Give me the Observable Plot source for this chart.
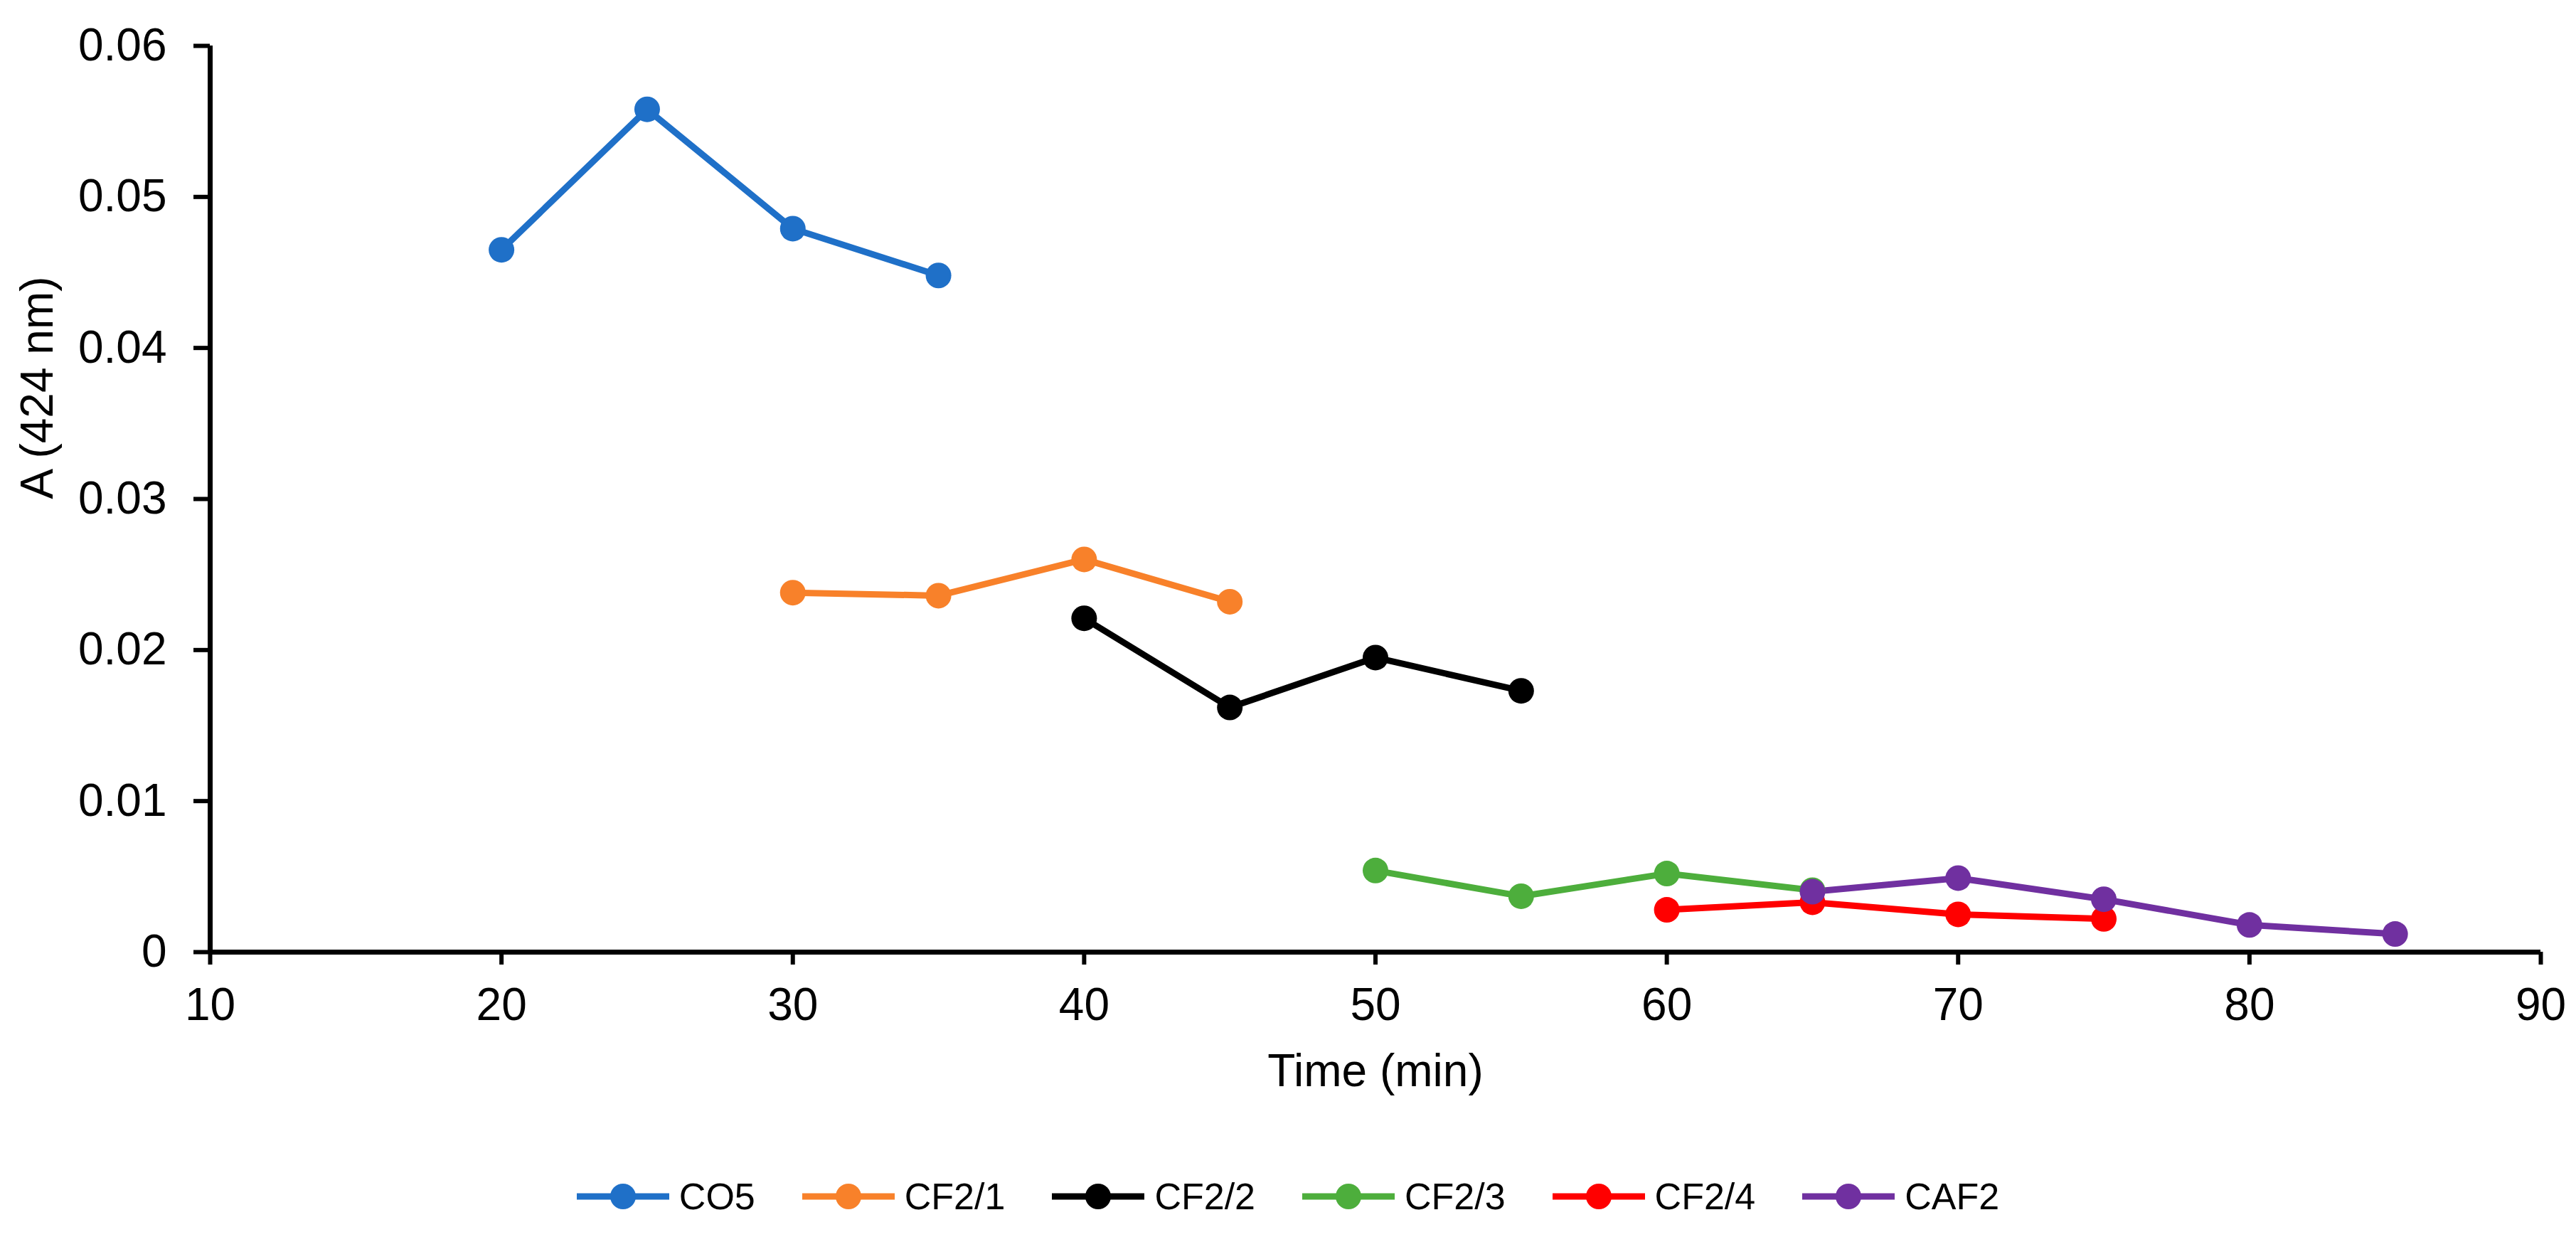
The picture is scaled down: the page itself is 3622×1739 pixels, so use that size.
<!DOCTYPE html>
<html>
<head>
<meta charset="utf-8">
<script src="https://cdn.jsdelivr.net/npm/d3@7"></script>
<script src="https://cdn.jsdelivr.net/npm/@observablehq/plot@0.6"></script>
<style>
  html, body { margin: 0; padding: 0; background: #fff; overflow: hidden; }
  #chart svg { display: block; }
  #legend { width: 3622px; height: 119px; display: flex; justify-content: center; align-items: flex-start; padding-top: 40px; box-sizing: border-box; }
  .item { display: flex; align-items: center; height: 44px; margin: 0 33px; }
  .item svg { display: block; margin-right: 14px; }
  .item span { font-family: "Liberation Sans Narrow", "Arial Narrow", "Liberation Sans", sans-serif; font-size: 52px; color: #000; line-height: 44px; }
</style>
</head>
<body>
<div id="chart"></div>
<div id="legend"></div>
<script>
const seriesNames = ["CO5", "CF2/1", "CF2/2", "CF2/3", "CF2/4", "CAF2"];
const seriesColors = ["#1F70C8", "#F8812A", "#000000", "#4DAE3C", "#FF0000", "#7030A0"];

const co5Time = [20, 25, 30, 35];
const co5A = [0.0465, 0.0558, 0.0479, 0.0448];
const cf21Time = [30, 35, 40, 45];
const cf21A = [0.0238, 0.0236, 0.0260, 0.0232];
const cf22Time = [40, 45, 50, 55];
const cf22A = [0.0221, 0.0162, 0.0195, 0.0173];
const cf23Time = [50, 55, 60, 65];
const cf23A = [0.0054, 0.0037, 0.0052, 0.0041];
const cf24Time = [60, 65, 70, 75];
const cf24A = [0.0028, 0.0033, 0.0025, 0.0022];
const caf2Time = [65, 70, 75, 80, 85];
const caf2A = [0.0040, 0.0049, 0.0035, 0.0018, 0.0012];

const xTicks = [10, 20, 30, 40, 50, 60, 70, 80, 90];
const yTicks = [0, 0.01, 0.02, 0.03, 0.04, 0.05, 0.06];
const yTickLabels = ["0", "0.01", "0.02", "0.03", "0.04", "0.05", "0.06"];
const xTitle = "Time (min)";
const yTitle = "A (424 nm)";

const seriesTimes = [co5Time, cf21Time, cf22Time, cf23Time, cf24Time, caf2Time];
const seriesValues = [co5A, cf21A, cf22A, cf23A, cf24A, caf2A];
const data = [];
seriesNames.forEach((s, k) => {
  seriesTimes[k].forEach((t, i) => data.push({s, t, a: seriesValues[k][i]}));
});

const chart = Plot.plot({
  width: 3622,
  height: 1620,
  marginLeft: 295,
  marginRight: 50,
  marginTop: 64,
  marginBottom: 282,
  style: {fontFamily: "'Liberation Sans', Arial, sans-serif", fontSize: "64px", color: "#000", background: "#fff", overflow: "visible"},
  x: {domain: [10, 90]},
  y: {domain: [0, 0.06]},
  color: {domain: seriesNames, range: seriesColors},
  marks: [
    Plot.axisX({ticks: xTicks, tickSize: 18, tickPadding: 32, strokeWidth: 6, fontSize: 64, tickFormat: d => String(d), label: null}),
    Plot.axisY({ticks: yTicks, tickSize: 23, tickPadding: 38, strokeWidth: 6, fontSize: 64, tickFormat: d => yTickLabels[yTicks.findIndex(v => Math.abs(v - d) < 1e-9)], label: null}),
    Plot.ruleY([0], {strokeWidth: 7, stroke: "#000"}),
    Plot.ruleX([10], {strokeWidth: 7, stroke: "#000"}),
    Plot.line(data, {x: "t", y: "a", z: "s", stroke: "s", strokeWidth: 9}),
    Plot.dot(data, {x: "t", y: "a", fill: "s", r: 18}),
    Plot.text([xTitle], {frameAnchor: "bottom", dy: 168, lineAnchor: "middle", fontSize: 64, fill: "#000"}),
    Plot.text([yTitle], {frameAnchor: "left", dx: -242, rotate: -90, lineAnchor: "middle", fontSize: 64, fill: "#000"})
  ]
});
document.getElementById("chart").appendChild(chart);

const legend = document.getElementById("legend");
seriesNames.forEach((s, k) => {
  const item = document.createElement("div");
  item.className = "item";
  const c = seriesColors[k];
  item.innerHTML = `<svg width="130" height="44"><line x1="0" y1="22" x2="130" y2="22" stroke="${c}" stroke-width="9"/><circle cx="65" cy="22" r="18" fill="${c}"/></svg><span>${s}</span>`;
  legend.appendChild(item);
});
</script>
</body>
</html>
